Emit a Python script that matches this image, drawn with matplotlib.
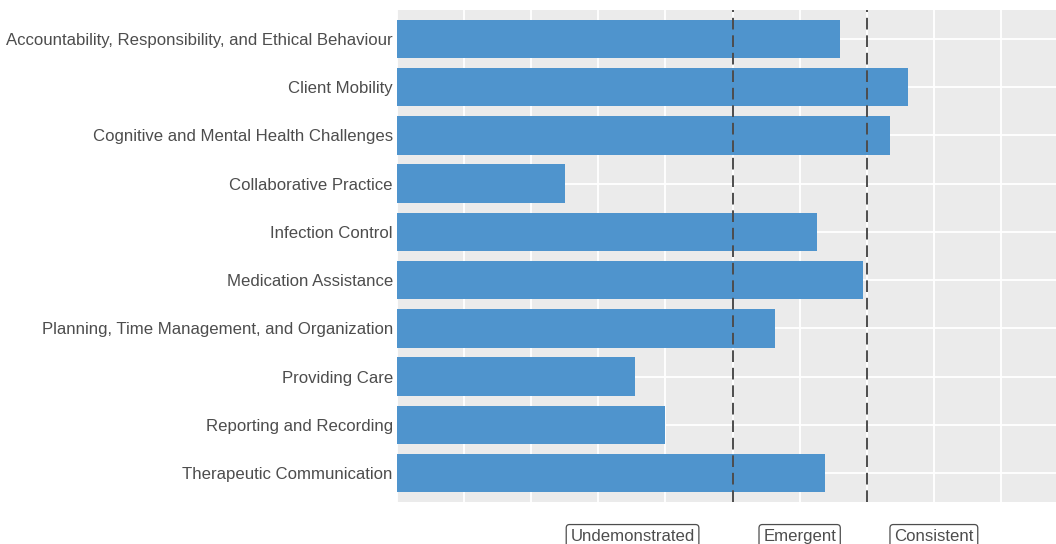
import numpy as np
import matplotlib
matplotlib.use("Agg")
import matplotlib.pyplot as plt

# competency areas, top to bottom
skills = [
    "Accountability, Responsibility, and Ethical Behaviour",
    "Client Mobility",
    "Cognitive and Mental Health Challenges",
    "Collaborative Practice",
    "Infection Control",
    "Medication Assistance",
    "Planning, Time Management, and Organization",
    "Providing Care",
    "Reporting and Recording",
    "Therapeutic Communication",
]
scores = [3.30, 3.81, 3.67, 1.25, 3.13, 3.47, 2.82, 1.77, 2.00, 3.19]

# level thresholds and level labels on the x axis
cutoffs = [2.5, 3.5]
level_names = ["Undemonstrated", "Emergent", "Consistent"]
level_pos = [1.755, 3.0, 4.0]

plt.rcParams["font.family"] = ["Liberation Sans", "DejaVu Sans"]

fig = plt.figure(figsize=(10.56, 5.44), dpi=100)
ax = fig.add_axes([397 / 1056, 1 - 502 / 544, 1 - 397 / 1056, 492 / 544])
ax.set_facecolor("#EBEBEB")

y = np.arange(len(skills))
ax.barh(y, scores, height=0.8, color="#4F94CD", zorder=2)

for c in cutoffs:
    ax.axvline(c, color="#4D4D4D", lw=1.4, dashes=(6, 3), zorder=3)

# grid
for gx in np.arange(0, 5, 0.5):
    ax.axvline(gx, color="white", lw=1.3, zorder=1)
for gy in y:
    ax.axhline(gy, color="white", lw=1.3, zorder=1)

ax.set_xlim(0, 4.91)
ax.set_ylim(len(skills) - 0.4, -0.6)
ax.set_yticks(y)
ax.set_yticklabels(skills, fontsize=12.1, color="#4D4D4D")
ax.tick_params(axis="y", length=0, pad=3)
ax.set_xticks([])
for s in ax.spines.values():
    s.set_visible(False)

for name, xp in zip(level_names, level_pos):
    ax.text(xp, len(skills) - 0.4 + 0.71, name, ha="center", va="center",
            fontsize=12.1, color="#4D4D4D", clip_on=False,
            bbox=dict(boxstyle="round,pad=0.25,rounding_size=0.2",
                      fc="white", ec="#4D4D4D", lw=0.9))

fig.savefig("out.png", dpi=100)
